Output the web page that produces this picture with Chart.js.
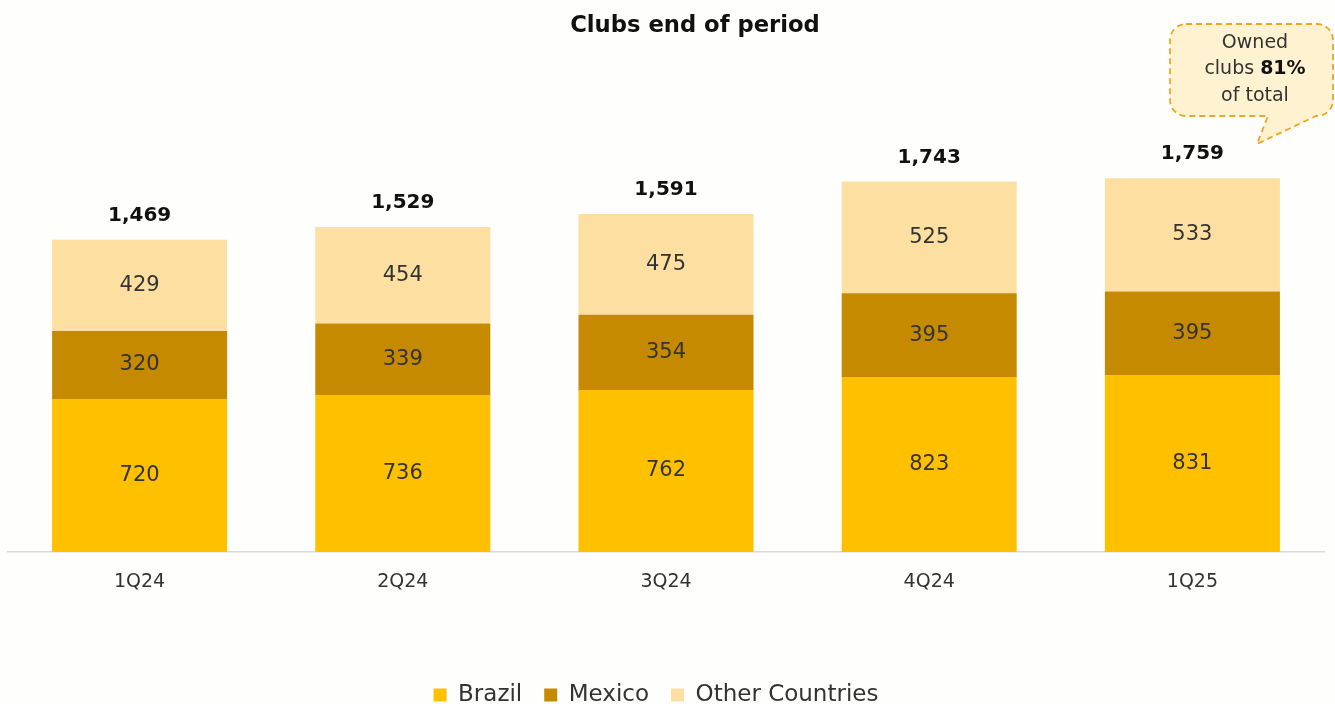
<!DOCTYPE html>
<html>
<head>
<meta charset="utf-8">
<script src="https://cdn.jsdelivr.net/npm/chart.js@4/dist/chart.umd.min.js"></script>
<style>
html,body{margin:0;padding:0;background:#fefefd;}
#wrap{width:1335px;height:704px;position:relative;}
</style>
</head>
<body>
<div id="wrap"><canvas id="c" width="1335" height="704"></canvas></div>
<script>
const categories = ["1Q24", "2Q24", "3Q24", "4Q24", "1Q25"];
const brazil = [720, 736, 762, 823, 831];
const mexico = [320, 339, 354, 395, 395];
const others = [429, 454, 475, 525, 533];
const totals = [1469, 1529, 1591, 1743, 1759];
const seriesNames = ["Brazil", "Mexico", "Other Countries"];
const titleText = "Clubs end of period";
const calloutLines = ["Owned", "clubs ", "81%", "of total"];

const FONT = "'DejaVu Sans', 'Noto Sans', sans-serif";
const colors = ["#FFC000", "#C58A00", "#FCDFA1"];

const labelPlugin = {
  id: 'labels',
  afterLayout(chart) {
    if (chart.legend) { chart.legend.left -= 10; chart.legend.right -= 10; }
  },
  afterDatasetsDraw(chart) {
    const ctx = chart.ctx;
    ctx.save();
    ctx.textAlign = 'center';
    ctx.textBaseline = 'middle';
    chart.data.datasets.forEach((ds, di) => {
      const meta = chart.getDatasetMeta(di);
      meta.data.forEach((el, i) => {
        ctx.fillStyle = '#333333';
        ctx.font = "400 21px " + FONT;
        const y = (el.y + el.base) / 2;
        ctx.fillText(String(ds.data[i]), el.x, y);
      });
    });
    const topMeta = chart.getDatasetMeta(chart.data.datasets.length - 1);
    topMeta.data.forEach((el, i) => {
      ctx.fillStyle = '#111111';
      ctx.font = "700 20px " + FONT;
      ctx.fillText(totals[i].toLocaleString('en-US'), el.x, el.y - 24);
    });
    ctx.restore();
  },
  afterDraw(chart) {
    const ctx = chart.ctx;
    ctx.save();
    ctx.fillStyle = '#111111';
    ctx.textAlign = 'center';
    ctx.textBaseline = 'middle';
    ctx.font = "700 22.7px " + FONT;
    ctx.fillText(titleText, 695, 26);
    const x0 = 1170, y0 = 24, x1 = 1333, y1 = 116, r = 16;
    ctx.beginPath();
    ctx.moveTo(x0 + r, y0);
    ctx.lineTo(x1 - r, y0);
    ctx.arcTo(x1, y0, x1, y0 + r, r);
    ctx.lineTo(x1, y1 - r);
    ctx.arcTo(x1, y1, x1 - r, y1, r);
    ctx.lineTo(1316, y1);
    ctx.lineTo(1257, 144);
    ctx.lineTo(1268, y1);
    ctx.lineTo(x0 + r, y1);
    ctx.arcTo(x0, y1, x0, y1 - r, r);
    ctx.lineTo(x0, y0 + r);
    ctx.arcTo(x0, y0, x0 + r, y0, r);
    ctx.closePath();
    ctx.fillStyle = '#FEF2D0';
    ctx.fill();
    ctx.setLineDash([6, 4]);
    ctx.lineWidth = 1.8;
    ctx.strokeStyle = '#F0A520';
    ctx.stroke();
    ctx.setLineDash([]);
    ctx.fillStyle = '#333333';
    ctx.textBaseline = 'middle';
    ctx.textAlign = 'center';
    ctx.font = "400 19px " + FONT;
    const cx = 1255;
    ctx.fillText(calloutLines[0], cx, 43);
    ctx.fillText(calloutLines[3], cx, 96);
    const f1 = "400 19px " + FONT, f2 = "700 19px " + FONT;
    ctx.font = f1; const w1 = ctx.measureText(calloutLines[1]).width;
    ctx.font = f2; const w2 = ctx.measureText(calloutLines[2]).width;
    let sx = cx - (w1 + w2) / 2;
    ctx.textAlign = 'left';
    ctx.font = f1; ctx.fillText(calloutLines[1], sx, 69);
    ctx.font = f2; ctx.fillStyle = '#111'; ctx.fillText(calloutLines[2], sx + w1, 69);
    ctx.restore();
  }
};

new Chart(document.getElementById('c'), {
  type: 'bar',
  data: {
    labels: categories,
    datasets: [
      { label: seriesNames[0], data: brazil, backgroundColor: colors[0] },
      { label: seriesNames[1], data: mexico, backgroundColor: colors[1] },
      { label: seriesNames[2], data: others, backgroundColor: colors[2] }
    ]
  },
  options: {
    responsive: false,
    animation: false,
    devicePixelRatio: 1,
    layout: { padding: { left: 8, right: 11, top: 127, bottom: -12.5 } },
    datasets: { bar: { categoryPercentage: 1, barPercentage: 0.665 } },
    scales: {
      x: {
        stacked: true,
        grid: { display: false, drawTicks: false },
        border: { display: true, color: '#D9D9D9', width: 1.5 },
        ticks: { color: '#333333', font: { family: FONT, size: 19 }, padding: 19 },
        afterFit(scale) { scale.height = 109.5; }
      },
      y: {
        stacked: true, display: false, min: 0, max: 2000
      }
    },
    plugins: {
      title: { display: false },
      legend: {
        position: 'bottom',
        labels: {
          color: '#333333', font: { family: FONT, size: 23 },
          boxWidth: 13, boxHeight: 13, padding: 22, useBorderRadius: false
        }
      },
      tooltip: { enabled: false }
    }
  },
  plugins: [labelPlugin]
});
</script>
</body>
</html>
